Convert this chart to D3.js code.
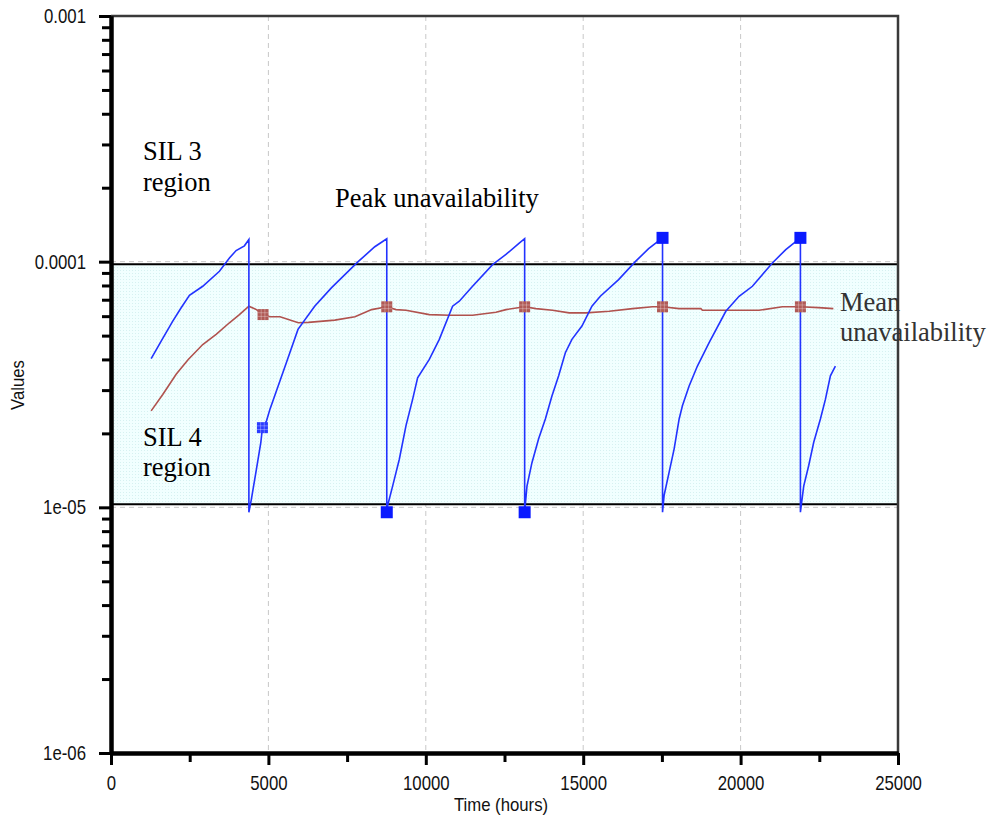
<!DOCTYPE html>
<html>
<head>
<meta charset="utf-8">
<script src="https://cdn.jsdelivr.net/npm/d3@7"></script>
<style>
  body { margin: 0; background: #fff; }
  svg { display: block; }
</style>
</head>
<body>
<svg id="chart" width="990" height="818"></svg>
<script>
// peak unavailability (blue sawtooth)
const peakTime = [1276, 1594, 1962, 2229, 2492, 2914, 3444, 3762, 3975, 4238, 4380,
    4380, 4460, 4620, 4760, 4810, 4940, 5050, 5310, 5570, 5940, 6470, 7000, 7850, 8380, 8760,
    8760, 8790, 8946, 9159, 9371, 9581, 9740, 10111, 10429, 10851, 11064, 11486, 12121, 12546, 12968, 13140,
    13140, 13214, 13372, 13584, 13798, 14007, 14220, 14433, 14642, 14960, 15277, 15544, 16125, 16655, 17078, 17520,
    17520, 17571, 17730, 17889, 18048, 18152, 18365, 18628, 19000, 19530, 19952, 20375, 21010, 21435, 21900,
    21900, 22005, 22164, 22323, 22535, 22694, 22853, 23011];
const peakValue = [4.03e-5, 4.75e-5, 5.73e-5, 6.49e-5, 7.3e-5, 7.94e-5, 9.14e-5, 1.035e-4, 1.11e-4, 1.16e-4, 1.23e-4,
    9.55e-6, 1.08e-5, 1.43e-5, 1.84e-5, 2.11e-5, 2.25e-5, 2.51e-5, 3.12e-5, 3.88e-5, 5.3e-5, 6.59e-5, 7.82e-5, 1.0e-4, 1.15e-4, 1.24e-4,
    9.55e-6, 1.02e-5, 1.22e-5, 1.57e-5, 2.15e-5, 2.75e-5, 3.37e-5, 4.0e-5, 4.83e-5, 6.59e-5, 6.9e-5, 7.94e-5, 9.72e-5, 1.07e-4, 1.19e-4, 1.24e-4,
    9.55e-6, 1.22e-5, 1.52e-5, 1.9e-5, 2.29e-5, 2.84e-5, 3.43e-5, 4.26e-5, 4.83e-5, 5.47e-5, 6.59e-5, 7.23e-5, 8.45e-5, 1.0e-4, 1.13e-4, 1.25e-4,
    9.55e-6, 1.12e-5, 1.39e-5, 1.73e-5, 2.29e-5, 2.59e-5, 3.12e-5, 3.76e-5, 4.68e-5, 6.28e-5, 7.23e-5, 7.94e-5, 9.88e-5, 1.12e-4, 1.25e-4,
    9.55e-6, 1.22e-5, 1.48e-5, 1.84e-5, 2.29e-5, 2.75e-5, 3.43e-5, 3.76e-5];

// mean unavailability (red line)
const meanTime = [1276, 1644, 2070, 2454, 2914, 3340, 3762, 4079, 4380, 4620, 4830, 5050, 5370, 5950, 6270, 7110, 7750, 8280, 8760,
    9054, 9371, 10111, 10746, 11486, 12229, 12546, 13140, 13498, 14025, 14556, 15086, 15826, 16565, 17200, 17520,
    18046, 18737, 18787, 20587, 21327, 21900, 22480, 22946];
const meanValue = [2.47e-5, 2.88e-5, 3.48e-5, 4.0e-5, 4.6e-5, 5.06e-5, 5.64e-5, 6.09e-5, 6.59e-5, 6.38e-5, 6.09e-5, 5.97e-5, 5.97e-5, 5.64e-5, 5.66e-5, 5.78e-5, 5.97e-5, 6.38e-5, 6.55e-5,
    6.38e-5, 6.34e-5, 6.09e-5, 6.05e-5, 6.05e-5, 6.22e-5, 6.38e-5, 6.55e-5, 6.44e-5, 6.34e-5, 6.19e-5, 6.19e-5, 6.28e-5, 6.44e-5, 6.55e-5, 6.55e-5,
    6.44e-5, 6.44e-5, 6.34e-5, 6.34e-5, 6.55e-5, 6.55e-5, 6.5e-5, 6.44e-5];

// markers
const peakMarkTime = [8760, 13140, 17520, 21900];
const peakMarkValue = [9.55e-6, 9.55e-6, 1.25e-4, 1.25e-4];
const cursorPeakTime = [4810];
const cursorPeakValue = [2.11e-5];
const meanMarkTime = [4830, 8760, 13140, 17520, 21900];
const meanMarkValue = [6.09e-5, 6.55e-5, 6.55e-5, 6.55e-5, 6.55e-5];

// axis ticks
const xTicks = [0, 5000, 10000, 15000, 20000, 25000];
const xMinorTicks = [2500, 7500, 12500, 17500, 22500];
const yTicks = [1e-3, 1e-4, 1e-5, 1e-6];
const yTickLabels = ["0.001", "0.0001", "1e-05", "1e-06"];
const yMinorTicks = [];
[1e-6, 1e-5, 1e-4].forEach(d => { for (let k = 2; k <= 9; k++) yMinorTicks.push(d * k); });

// SIL band
const silBand = [1e-5, 1e-4];

const svg = d3.select('#chart');
const pLeft = 111, pRight = 898, pTop = 16, pBottom = 753;
const x = d3.scaleLinear().domain([0, 25000]).range([pLeft, pRight]);
const y = d3.scaleLog().domain([1e-6, 1e-3]).range([pBottom, pTop]);

const blue = '#2233ff', red = '#b0524e';
const tickFont = '"Liberation Sans", Arial, sans-serif';
const sx = 0.84; // tick labels look narrow

// dotted cyan fill for the band
const defs = svg.append('defs');
const pat = defs.append('pattern').attr('id', 'dots')
    .attr('width', 3).attr('height', 3).attr('patternUnits', 'userSpaceOnUse');
pat.append('rect').attr('width', 3).attr('height', 3).attr('fill', '#f1ffff');
pat.append('rect').attr('width', 1).attr('height', 1).attr('fill', '#d6f1f1');

// grid
svg.append('g').selectAll('line').data(xTicks.slice(1, -1)).join('line')
    .attr('x1', d => x(d)).attr('x2', d => x(d))
    .attr('y1', pTop).attr('y2', pBottom)
    .attr('stroke', '#c8c8c8').attr('stroke-dasharray', '5,4');
svg.append('g').selectAll('line').data(silBand).join('line')
    .attr('x1', pLeft).attr('x2', pRight)
    .attr('y1', d => y(d)).attr('y2', d => y(d))
    .attr('stroke', '#c8c8c8').attr('stroke-dasharray', '5,4');

// SIL 4 band, drawn just inside the grid lines
const bandTop = y(silBand[1]) + 2.5, bandBot = y(silBand[0]) - 3;
svg.append('rect')
    .attr('x', pLeft).attr('y', bandTop)
    .attr('width', pRight - pLeft).attr('height', bandBot - bandTop)
    .attr('fill', 'url(#dots)');
svg.append('g').selectAll('line').data([bandTop, bandBot]).join('line')
    .attr('x1', pLeft).attr('x2', pRight)
    .attr('y1', d => d).attr('y2', d => d)
    .attr('stroke', '#000').attr('stroke-width', 2);

// top + right frame
svg.append('path')
    .attr('d', `M${pLeft},${pTop}H${pRight}V${pBottom}`)
    .attr('fill', 'none').attr('stroke', '#3a3a3a').attr('stroke-width', 2.5);

// series
const line = d3.line().x(d => x(d[0])).y(d => y(d[1]));
svg.append('path')
    .datum(d3.zip(meanTime, meanValue))
    .attr('d', line).attr('fill', 'none')
    .attr('stroke', red).attr('stroke-width', 1.6);
svg.append('path')
    .datum(d3.zip(peakTime, peakValue))
    .attr('d', line).attr('fill', 'none')
    .attr('stroke', blue).attr('stroke-width', 1.6);

// hatched square markers
function hatched(g, data, color, s) {
    const m = g.selectAll('g').data(data).join('g')
        .attr('transform', d => `translate(${x(d[0])},${y(d[1])})`);
    m.append('rect').attr('x', -s / 2).attr('y', -s / 2).attr('width', s).attr('height', s)
        .attr('fill', color);
    [-s / 6, s / 6].forEach(o => {
        m.append('line').attr('x1', o).attr('x2', o).attr('y1', -s / 2).attr('y2', s / 2)
            .attr('stroke', '#fff').attr('stroke-opacity', 0.3).attr('stroke-width', 1);
        m.append('line').attr('y1', o).attr('y2', o).attr('x1', -s / 2).attr('x2', s / 2)
            .attr('stroke', '#fff').attr('stroke-opacity', 0.3).attr('stroke-width', 1);
    });
}
hatched(svg.append('g'), d3.zip(meanMarkTime, meanMarkValue), '#b05a56', 11);
hatched(svg.append('g'), d3.zip(cursorPeakTime, cursorPeakValue), '#2a3cff', 11);

svg.append('g').selectAll('rect').data(d3.zip(peakMarkTime, peakMarkValue)).join('rect')
    .attr('x', d => x(d[0]) - 6).attr('y', d => y(d[1]) - 6)
    .attr('width', 12).attr('height', 12)
    .attr('fill', '#0a1aff');

// axes
function styleAxis(g) {
    g.select('.domain').attr('stroke', '#000').attr('stroke-width', 4);
    g.selectAll('.tick line').attr('stroke', '#000').attr('stroke-width', 3);
    g.selectAll('text').attr('font-family', tickFont).attr('font-size', 20).attr('fill', '#111');
}

const xAxis = svg.append('g').attr('transform', `translate(0,${pBottom})`)
    .call(d3.axisBottom(x).tickValues(xTicks).tickFormat(d3.format('d'))
        .tickSize(12).tickPadding(11).tickSizeOuter(0));
styleAxis(xAxis);
xAxis.selectAll('text').attr('transform', `scale(${sx},1)`);
svg.append('g').attr('transform', `translate(0,${pBottom})`)
    .call(d3.axisBottom(x).tickValues(xMinorTicks).tickFormat('').tickSize(9).tickSizeOuter(0))
    .call(styleAxis);

const yAxis = svg.append('g').attr('transform', `translate(${pLeft},0)`)
    .call(d3.axisLeft(y).tickValues(yTicks).tickFormat((d, i) => yTickLabels[i])
        .tickSize(12).tickPadding(13).tickSizeOuter(0));
styleAxis(yAxis);
yAxis.selectAll('text')
    .attr('x', function () { return +d3.select(this).attr('x') / sx; })
    .attr('transform', `scale(${sx},1)`);
svg.append('g').attr('transform', `translate(${pLeft},0)`)
    .call(d3.axisLeft(y).tickValues(yMinorTicks).tickFormat('').tickSize(9).tickSizeOuter(0))
    .call(styleAxis);

// axis titles
svg.append('text')
    .attr('transform', 'translate(501,811) scale(0.93,1)')
    .attr('text-anchor', 'middle')
    .attr('font-family', tickFont).attr('font-size', 18).attr('fill', '#111')
    .text('Time (hours)');
svg.append('text')
    .attr('transform', 'translate(24,385) rotate(-90) scale(0.93,1)')
    .attr('text-anchor', 'middle')
    .attr('font-family', tickFont).attr('font-size', 18).attr('fill', '#111')
    .text('Values');

// annotations
const notes = [
    { t: 'SIL 3', x: 143, y: 160, c: '#000' },
    { t: 'region', x: 143, y: 191, c: '#000' },
    { t: 'Peak unavailability', x: 335, y: 207, c: '#000' },
    { t: 'SIL 4', x: 143, y: 446, c: '#000' },
    { t: 'region', x: 143, y: 476, c: '#000' },
    { t: 'Mean', x: 840, y: 311, c: '#333' },
    { t: 'unavailability', x: 840, y: 341, c: '#333' }
];
svg.append('g').selectAll('text').data(notes).join('text')
    .attr('x', d => d.x).attr('y', d => d.y)
    .attr('font-family', '"Liberation Serif", "Times New Roman", serif')
    .attr('font-size', 26.5).attr('fill', d => d.c)
    .text(d => d.t);
</script>
</body>
</html>
